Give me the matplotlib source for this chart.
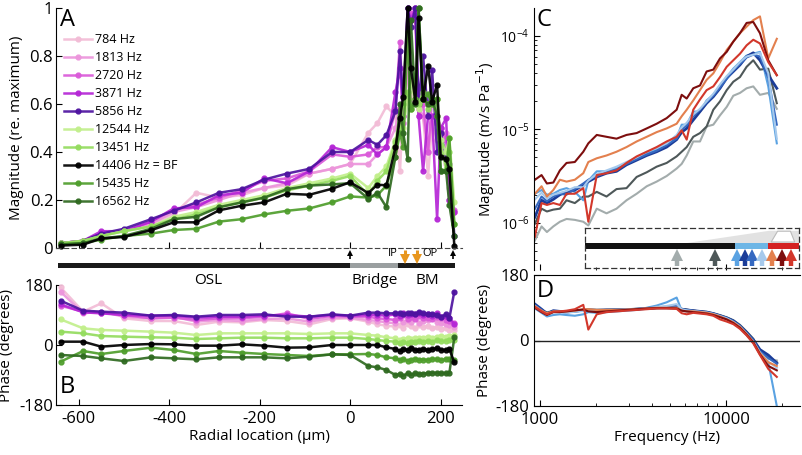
import numpy as np
import matplotlib
matplotlib.use('Agg')
import matplotlib.pyplot as plt
from matplotlib.patches import Rectangle, Polygon
from matplotlib.ticker import FixedLocator, FixedFormatter, NullFormatter, LogLocator

plt.rcParams['font.family'] = ['Open Sans', 'DejaVu Sans']
plt.rcParams['axes.unicode_minus'] = False

# ---------------- Panel A / B data ----------------
radial_um = [-640, -590, -550, -500, -440, -390, -340, -290, -240, -190, -140, -90, -40, 0,
             40, 60, 80, 100, 110, 117, 127, 134, 144, 151, 161, 172, 181, 192, 200, 212, 219, 230]

freq_labels = ['784 Hz', '1813 Hz', '2720 Hz', '3871 Hz', '5856 Hz',
               '12544 Hz', '13451 Hz', '14406 Hz = BF', '15435 Hz', '16562 Hz']
freq_colors = ['#F2BCD6', '#EC95DC', '#DA5AD9', '#B526D6', '#4E13A0',
               '#C2EF8C', '#94DC5E', '#000000', '#4F9E2C', '#2F6A20']

mag_784 = [0.02, 0.03, 0.06, 0.07, 0.10, 0.14, 0.23, 0.21, 0.22, 0.25, 0.26, 0.31, 0.33, 0.35,
           0.48, 0.52, 0.59, 0.55, 0.32, 0.60, 0.75, 0.62, 0.70, 0.58, 0.55, 0.30, 0.52, 0.45, 0.42, 0.35, 0.25, 0.15]
mag_1813 = [0.02, 0.03, 0.06, 0.07, 0.10, 0.15, 0.17, 0.20, 0.23, 0.25, 0.27, 0.31, 0.33, 0.35,
            0.35, 0.39, 0.42, 0.50, 0.60, 0.55, 0.72, 0.95, 1.00, 0.58, 0.55, 0.40, 0.55, 0.52, 0.45, 0.48, 0.30, 0.15]
mag_2720 = [0.02, 0.03, 0.06, 0.07, 0.11, 0.16, 0.18, 0.21, 0.24, 0.28, 0.29, 0.32, 0.39, 0.38,
            0.39, 0.42, 0.42, 0.58, 0.86, 0.52, 0.90, 0.98, 0.95, 0.55, 0.60, 0.40, 0.62, 0.55, 0.50, 0.45, 0.20, 0.16]
mag_3871 = [0.02, 0.03, 0.07, 0.07, 0.11, 0.165, 0.17, 0.22, 0.23, 0.29, 0.27, 0.32, 0.42, 0.40,
            0.43, 0.39, 0.42, 0.65, 0.75, 0.55, 1.00, 0.95, 1.00, 0.55, 0.32, 0.55, 0.55, 0.12, 0.50, 0.54, 0.20, 0.15]
mag_5856 = [0.02, 0.03, 0.06, 0.08, 0.12, 0.155, 0.19, 0.23, 0.245, 0.285, 0.31, 0.33, 0.40, 0.40,
            0.45, 0.43, 0.47, 0.57, 0.82, 0.60, 1.00, 0.92, 1.00, 0.60, 0.80, 0.55, 0.74, 0.40, 0.48, 0.38, 0.35, 0.05]
mag_12544 = [0.02, 0.03, 0.05, 0.07, 0.09, 0.13, 0.15, 0.18, 0.20, 0.22, 0.25, 0.27, 0.29, 0.31,
             0.25, 0.30, 0.34, 0.45, 0.55, 0.50, 0.62, 0.70, 0.60, 0.58, 0.62, 0.60, 0.62, 0.55, 0.45, 0.40, 0.46, 0.19]
mag_13451 = [0.02, 0.03, 0.05, 0.07, 0.09, 0.12, 0.14, 0.17, 0.19, 0.21, 0.24, 0.26, 0.28, 0.30,
             0.22, 0.28, 0.32, 0.44, 0.50, 0.60, 0.65, 0.58, 0.62, 0.60, 0.65, 0.58, 0.60, 0.62, 0.43, 0.33, 0.40, 0.10]
mag_14406 = [0.01, 0.014, 0.04, 0.046, 0.074, 0.107, 0.107, 0.157, 0.176, 0.19, 0.226, 0.222, 0.247, 0.274,
             0.229, 0.264, 0.261, 0.42, 0.54, 0.63, 1.00, 0.75, 0.61, 0.96, 0.62, 0.76, 0.61, 0.68, 0.38, 0.37, 0.33, 0.01]
mag_15435 = [0.015, 0.02, 0.035, 0.05, 0.06, 0.075, 0.08, 0.11, 0.12, 0.14, 0.155, 0.165, 0.19, 0.215,
             0.21, 0.22, 0.26, 0.38, 0.48, 0.42, 0.90, 0.58, 0.62, 1.00, 0.62, 0.64, 0.60, 0.62, 0.32, 0.32, 0.46, 0.10]
mag_16562 = [0.015, 0.02, 0.04, 0.05, 0.08, 0.12, 0.13, 0.17, 0.19, 0.21, 0.245, 0.26, 0.265, 0.27,
             0.205, 0.23, 0.17, 0.38, 0.60, 0.48, 0.37, 0.95, 0.60, 1.00, 0.62, 0.60, 0.62, 0.55, 0.32, 0.32, 0.18, 0.05]

ph_784 = [173, 100, 125, 80, 72, 72, 60, 70, 68, 75, 72, 62, 78, 80,
          70, 62, 58, 55, 60, 52, 62, 58, 50, 60, 55, 58, 50, 55, 48, 52, 45, 45]
ph_1813 = [160, 95, 100, 85, 80, 85, 70, 75, 72, 78, 80, 70, 82, 82,
           75, 72, 68, 65, 85, 68, 75, 70, 85, 65, 72, 75, 80, 70, 65, 62, 60, 55]
ph_2720 = [118, 100, 97, 90, 80, 82, 75, 80, 80, 85, 95, 78, 88, 85,
           85, 80, 78, 75, 80, 90, 78, 85, 78, 88, 80, 82, 78, 85, 80, 76, 72, 65]
ph_3871 = [122, 98, 95, 90, 88, 88, 82, 85, 85, 88, 90, 85, 90, 88,
           90, 90, 88, 92, 88, 95, 90, 92, 94, 95, 90, 92, 88, 95, 85, 88, 82, 62]
ph_5856 = [133, 103, 100, 97, 88, 90, 85, 90, 90, 92, 85, 85, 92, 88,
           97, 97, 95, 95, 96, 92, 95, 95, 94, 98, 95, 92, 94, 90, 85, 92, 80, 160]
ph_12544 = [77, 50, 45, 43, 40, 37, 30, 35, 35, 35, 35, 33, 35, 35,
            30, 28, 23, 20, 15, 18, 20, 18, 22, 20, 22, 25, 22, 25, 28, 25, 28, 30]
ph_13451 = [40, 35, 27, 25, 23, 22, 18, 20, 22, 22, 20, 20, 22, 22,
            18, 15, 12, 10, 5, 8, 6, 10, 8, 12, 10, 12, 10, 14, 12, 12, 15, 15]
ph_14406 = [10, 10, -5, 0, 3, 2, -2, -2, 2, -2, -8, -7, 0, 0,
            0, 0, -7, -12, -18, -12, -15, -8, -15, -15, -12, -15, -12, -10, -15, -15, -12, -52]
ph_15435 = [-50, -18, -27, -18, -8, -15, -27, -18, -23, -27, -30, -33, -28, -28,
            -27, -30, -37, -40, -45, -42, -47, -44, -42, -45, -44, -45, -42, -43, -45, -43, -42, -45]
ph_16562 = [-30, -33, -40, -48, -37, -40, -43, -37, -37, -37, -40, -35, -28, -30,
            -63, -67, -75, -90, -88, -92, -85, -90, -85, -88, -86, -85, -84, -84, -85, -85, -85, 23]

mags_A = [mag_784, mag_1813, mag_2720, mag_3871, mag_5856, mag_12544, mag_13451, mag_14406, mag_15435, mag_16562]
phs_B = [ph_784, ph_1813, ph_2720, ph_3871, ph_5856, ph_12544, ph_13451, ph_14406, ph_15435, ph_16562]

# ---------------- Panel C / D data ----------------
freq_hz = [940, 1020, 1090, 1180, 1280, 1390, 1540, 1710, 1820, 2020, 2280, 2580, 2920, 3310, 3750,
           4240, 4800, 5430, 5780, 6150, 6670, 7250, 7870, 8550, 9290, 10090, 10950, 11890, 12910,
           14020, 15230, 16880, 18760]

loc_colors = ['#A3ACAC', '#4E5859', '#5AA2E2', '#1B3C98', '#3568C0', '#A6C9EC', '#E3804E', '#7D0E0E', '#D2372B']

# log10 of velocity magnitude (m/s/Pa)
c_lightgray = [-6.19, -6.04, -6.10, -6.04, -5.99, -5.96, -5.97, -5.99, -6.03, -5.85, -5.90, -5.85, -5.76, -5.69, -5.61,
               -5.56, -5.50, -5.42, -5.37, -5.28, -5.13, -5.13, -4.97, -4.95, -4.85, -4.76, -4.64, -4.61, -4.56,
               -4.54, -4.63, -4.61, -4.78]
c_darkgray = [-6.01, -5.85, -5.88, -5.86, -5.85, -5.76, -5.79, -5.72, -5.72, -5.67, -5.72, -5.64, -5.63, -5.51, -5.46,
              -5.40, -5.36, -5.29, -5.24, -5.19, -5.08, -5.04, -4.97, -4.79, -4.70, -4.58, -4.49, -4.44, -4.33,
              -4.26, -4.36, -4.35, -4.72]
c_lightblue = [-5.69, -5.65, -5.70, -5.69, -5.65, -5.63, -5.67, -5.76, -5.55, -5.45, -5.45, -5.42, -5.36, -5.31, -5.25,
               -5.22, -5.16, -5.09, -4.95, -4.95, -4.81, -4.81, -4.69, -4.63, -4.53, -4.44, -4.35, -4.28, -4.21,
               -4.19, -4.17, -4.54, -5.15]
c_navy = [-5.94, -5.76, -5.79, -5.75, -5.70, -5.67, -5.65, -5.60, -5.56, -5.51, -5.47, -5.45, -5.38, -5.33, -5.28,
          -5.24, -5.19, -5.11, -5.03, -4.99, -4.90, -4.81, -4.72, -4.65, -4.56, -4.45, -4.38, -4.31, -4.22,
          -4.18, -4.26, -4.42, -4.56]
c_blue = [-5.85, -5.72, -5.77, -5.72, -5.69, -5.70, -5.64, -5.58, -5.54, -5.50, -5.46, -5.43, -5.37, -5.32, -5.27,
          -5.23, -5.17, -5.10, -5.00, -4.96, -4.86, -4.79, -4.71, -4.64, -4.55, -4.46, -4.37, -4.30, -4.23,
          -4.20, -4.22, -4.45, -4.95]
c_paleblue = [-5.75, -5.68, -5.74, -5.70, -5.68, -5.66, -5.62, -5.62, -5.55, -5.48, -5.44, -5.40, -5.35, -5.30, -5.24,
              -5.20, -5.15, -5.06, -4.98, -4.93, -4.84, -4.78, -4.70, -4.62, -4.52, -4.43, -4.36, -4.28, -4.22,
              -4.20, -4.18, -4.40, -5.10]
c_orange = [-5.69, -5.61, -5.72, -5.65, -5.54, -5.56, -5.54, -5.47, -5.35, -5.31, -5.28, -5.24, -5.19, -5.13, -5.08,
            -5.03, -4.99, -4.94, -4.86, -4.79, -4.69, -4.58, -4.47, -4.40, -4.28, -4.15, -4.06, -3.97, -3.90,
            -3.83, -3.79, -4.24, -4.03]
c_darkred = [-5.54, -5.49, -5.58, -5.57, -5.44, -5.36, -5.35, -5.24, -5.15, -5.06, -5.08, -5.10, -5.06, -5.04, -4.99,
             -4.94, -4.88, -4.79, -4.63, -4.67, -4.56, -4.53, -4.38, -4.36, -4.24, -4.17, -4.06, -3.97, -3.86,
             -3.85, -3.97, -4.26, -4.42]
c_red = [-6.15, -5.79, -5.81, -5.79, -5.81, -5.69, -5.69, -5.63, -5.99, -5.49, -5.47, -5.44, -5.36, -5.29, -5.24,
         -5.19, -5.13, -5.08, -5.01, -5.11, -4.79, -4.68, -4.58, -4.54, -4.44, -4.33, -4.26, -4.19, -4.10,
         -4.04, -4.08, -4.28, -4.42]

d_lightgray = [92, 82, 78, 80, 81, 79, 81, 84, 86, 85, 85, 86, 86, 87, 88, 89, 89, 89, 86, 84, 82, 80, 79, 75, 70,
               64, 56, 43, 25, 5, -25, -50, -55]
d_darkgray = [95, 83, 76, 80, 80, 78, 80, 82, 83, 83, 84, 84, 85, 87, 88, 89, 90, 90, 87, 85, 82, 80, 78, 74, 69,
              63, 55, 42, 24, 4, -28, -45, -60]
d_lightblue = [88, 76, 66, 70, 72, 70, 68, 72, 78, 76, 78, 80, 82, 84, 90, 96, 105, 118, 82, 80, 79, 78, 76, 72, 65,
               58, 48, 35, 15, -5, -35, -60, -180]
d_navy = [100, 86, 74, 82, 80, 78, 81, 83, 84, 83, 84, 84, 85, 86, 88, 90, 90, 90, 86, 84, 82, 80, 78, 74, 68,
          62, 54, 40, 22, 2, -25, -40, -62]
d_blue = [97, 84, 73, 80, 79, 77, 80, 82, 83, 82, 83, 84, 85, 86, 89, 91, 93, 95, 85, 83, 81, 79, 77, 73, 68,
          62, 53, 40, 21, 1, -30, -48, -64]
d_paleblue = [95, 80, 70, 78, 78, 76, 79, 81, 83, 82, 83, 84, 85, 86, 89, 92, 95, 100, 86, 83, 81, 79, 77, 73, 67,
              61, 51, 38, 18, -3, -33, -58, -75]
d_orange = [94, 82, 75, 80, 80, 80, 82, 86, 86, 84, 84, 84, 85, 86, 88, 90, 90, 90, 82, 80, 80, 78, 76, 72, 66,
            58, 50, 37, 18, -4, -35, -60, -70]
d_darkred = [90, 78, 70, 78, 78, 80, 83, 85, 80, 78, 80, 82, 84, 86, 88, 89, 89, 88, 82, 80, 78, 76, 74, 70, 64,
             58, 48, 35, 16, -5, -38, -70, -82]
d_red = [92, 80, 72, 79, 80, 82, 86, 98, 30, 72, 78, 80, 82, 84, 86, 88, 88, 87, 75, 72, 76, 74, 72, 68, 58,
         52, 45, 32, 14, -8, -40, -78, -100]

mags_C = [c_lightgray, c_darkgray, c_lightblue, c_navy, c_blue, c_paleblue, c_orange, c_darkred, c_red]
phs_D = [d_lightgray, d_darkgray, d_lightblue, d_navy, d_blue, d_paleblue, d_orange, d_darkred, d_red]

# inset arrow positions (fraction of inset width) for the nine locations
arrow_pos = [0.43, 0.607, 0.709, 0.748, 0.781, 0.827, 0.872, 0.919, 0.961]

# ---------------- figure ----------------
W, H = 802, 455
fig = plt.figure(figsize=(W / 100, H / 100), dpi=100)


def ax_px(l, t, r, b):
    return fig.add_axes([l / W, 1 - b / H, (r - l) / W, (b - t) / H])


TICK = 12
LAB = 11

# ---- Panel A ----
axA = ax_px(56, 8, 462, 248)
handles = [None] * 10
order = [0, 1, 2, 3, 4, 5, 6, 8, 9, 7]
for i in order:
    h, = axA.plot(radial_um, mags_A[i], '-o', color=freq_colors[i], lw=1.8, ms=3.5,
                  mec=freq_colors[i], alpha=0.92, label=freq_labels[i], clip_on=False)
    handles[i] = h
axA.set_xlim(-650, 247)
axA.set_ylim(0, 1)
axA.spines['top'].set_visible(False)
axA.spines['right'].set_visible(False)
axA.spines['bottom'].set_linestyle((0, (4, 3)))
axA.spines['bottom'].set_color('#444444')
axA.set_yticks([0, 0.2, 0.4, 0.6, 0.8, 1.0])
axA.set_yticklabels(['0', '0.2', '0.4', '0.6', '0.8', '1'])
axA.set_xticks([-600, -400, -200, 0, 200])
axA.set_xticklabels([])
axA.tick_params(direction='in', length=4, labelsize=TICK, pad=2)
axA.set_ylabel('Magnitude (re. maximum)', fontsize=LAB, labelpad=4)
axA.text(0.01, 1.0, 'A', transform=axA.transAxes, fontsize=17, va='top', ha='left')
leg = axA.legend(handles=handles, loc='upper left', bbox_to_anchor=(64 / W, 1 - 33 / H),
                 bbox_transform=fig.transFigure, frameon=False, fontsize=9, handlelength=2.2,
                 handletextpad=0.3, labelspacing=0.4, borderpad=0, borderaxespad=0)

# ---- Panel B ----
axB = ax_px(56, 285, 462, 405)
axB.patch.set_visible(False)
for i in order:
    axB.plot(radial_um, phs_B[i], '-o', color=freq_colors[i], lw=1.8, ms=3.5,
             mec=freq_colors[i], alpha=0.92, clip_on=False)
axB.set_xlim(-650, 247)
axB.set_ylim(-180, 180)
axB.spines['top'].set_visible(False)
axB.spines['right'].set_visible(False)
axB.set_yticks([-180, 0, 180])
axB.set_yticklabels(['-180', '0', '180'])
axB.set_xticks([-600, -400, -200, 0, 200])
axB.tick_params(direction='in', length=4, labelsize=TICK, pad=2)
axB.tick_params(axis='x', pad=4)
axB.set_ylabel('Phase (degrees)', fontsize=LAB, labelpad=4)
axB.set_xlabel('Radial location (\u00b5m)', fontsize=LAB, labelpad=2)
axB.text(0.01, 0.05, 'B', transform=axB.transAxes, fontsize=17, va='bottom', ha='left')

# ---- structure bar between A and B ----
axS = ax_px(56, 248, 462, 292)
axS.set_zorder(5)
axS.patch.set_visible(False)
axS.set_xlim(-650, 247)
axS.set_ylim(44, 0)
axS.axis('off')
axS.add_patch(Rectangle((-645, 15), 645, 5, color='#1a1a1a', lw=0))
axS.add_patch(Rectangle((0, 15), 106, 5, color='#9a9fa0', lw=0))
axS.add_patch(Rectangle((106, 15), 126, 5, color='#1a1a1a', lw=0))
axS.text(-314, 33, 'OSL', ha='center', va='center', fontsize=LAB)
axS.text(55, 33, 'Bridge', ha='center', va='center', fontsize=LAB)
axS.text(170, 33, 'BM', ha='center', va='center', fontsize=LAB)
for xa in [0, 228]:
    axS.plot([xa, xa], [11, 5], color='k', lw=1.2, solid_capstyle='butt')
    axS.plot([xa], [5], marker='^', ms=4.5, color='k', mew=0)
for xa in [121, 148]:
    axS.plot([xa, xa], [1.5, 9], color='#E8961E', lw=2.2, solid_capstyle='butt')
    axS.plot([xa], [10.5], marker='v', ms=7.5, color='#E8961E', mew=0)
axS.text(105, 5, 'IP', ha='right', va='center', fontsize=8)
axS.text(160, 5, 'OP', ha='left', va='center', fontsize=8)

# ---- Panel C ----
axC = ax_px(534, 8, 800, 270)
fr = np.array(freq_hz)
for i in range(9):
    lw = 2.0 if i == 3 else 1.5
    axC.plot(fr, 10.0 ** np.array(mags_C[i]), '-', color=loc_colors[i], lw=lw)
axC.set_xscale('log')
axC.set_yscale('log')
axC.set_xlim(929, 25000)
axC.set_ylim(10 ** -6.507, 10 ** -3.70)
axC.spines['top'].set_visible(False)
axC.spines['right'].set_visible(False)
axC.spines['bottom'].set_visible(False)
axC.set_yticks([1e-6, 1e-5, 1e-4])
axC.xaxis.set_major_formatter(NullFormatter())
axC.xaxis.set_minor_formatter(NullFormatter())
axC.tick_params(which='both', direction='in', labelsize=10)
axC.tick_params(which='major', length=4)
axC.tick_params(which='minor', length=2.5)
axC.set_ylabel('Magnitude (m/s Pa$^{-1}$)', fontsize=LAB, labelpad=2)
axC.text(0.01, 1.0, 'C', transform=axC.transAxes, fontsize=17, va='top', ha='left')

# inset
axI = ax_px(585, 228, 799, 268)
axI.set_xlim(0, 1)
axI.set_ylim(0, 1)
axI.set_xticks([])
axI.set_yticks([])
axI.patch.set_alpha(0)
for s in axI.spines.values():
    s.set_linestyle((0, (4, 3)))
    s.set_color('#333333')
    s.set_linewidth(0.9)
axI.add_patch(Polygon([(0.47, 0.62), (0.86, 0.93), (1.0, 0.93), (1.0, 0.62)], closed=True,
                      color='#e2e2e2', lw=0))
axI.add_patch(Polygon([(0.87, 0.65), (0.90, 0.92), (0.96, 0.92), (0.98, 0.65)], closed=True,
                      fc='white', ec='#bbbbbb', lw=0.8))
axI.add_patch(Rectangle((0.0, 0.48), 0.70, 0.14, color='#111111', lw=0))
axI.add_patch(Rectangle((0.70, 0.48), 0.155, 0.14, color='#6DB6E6', lw=0))
axI.add_patch(Rectangle((0.855, 0.48), 0.145, 0.14, color='#D42222', lw=0))
for xa, c in zip(arrow_pos, loc_colors):
    axI.plot([xa, xa], [0.06, 0.30], color=c, lw=3.2, solid_capstyle='butt')
    axI.plot([xa], [0.33], marker='^', ms=9, color=c, mew=0)

# ---- Panel D ----
axD = ax_px(534, 275, 800, 406)
for i in range(9):
    lw = 2.0 if i == 3 else 1.5
    axD.plot(fr, phs_D[i], '-', color=loc_colors[i], lw=lw)
axD.axhline(0, color='#222222', lw=1)
axD.set_xscale('log')
axD.set_xlim(929, 25000)
axD.set_ylim(-180, 180)
axD.spines['right'].set_visible(False)
axD.set_yticks([-180, 0, 180])
axD.set_yticklabels(['-180', '0', '180'])
axD.xaxis.set_major_locator(FixedLocator([1000, 10000]))
axD.xaxis.set_major_formatter(FixedFormatter(['1000', '10000']))
axD.xaxis.set_minor_locator(LogLocator(base=10, subs=np.arange(2, 10)))
axD.xaxis.set_minor_formatter(NullFormatter())
axD.tick_params(which='both', direction='in', labelsize=TICK, top=False)
axD.tick_params(which='major', length=4)
axD.tick_params(which='minor', length=2.5)
axD.tick_params(axis='x', pad=4)
axD.set_ylabel('Phase (degrees)', fontsize=LAB, labelpad=2)
axD.set_xlabel('Frequency (Hz)', fontsize=LAB, labelpad=2)
axD.text(0.01, 0.97, 'D', transform=axD.transAxes, fontsize=17, va='top', ha='left')

fig.savefig('out.png', dpi=100)
